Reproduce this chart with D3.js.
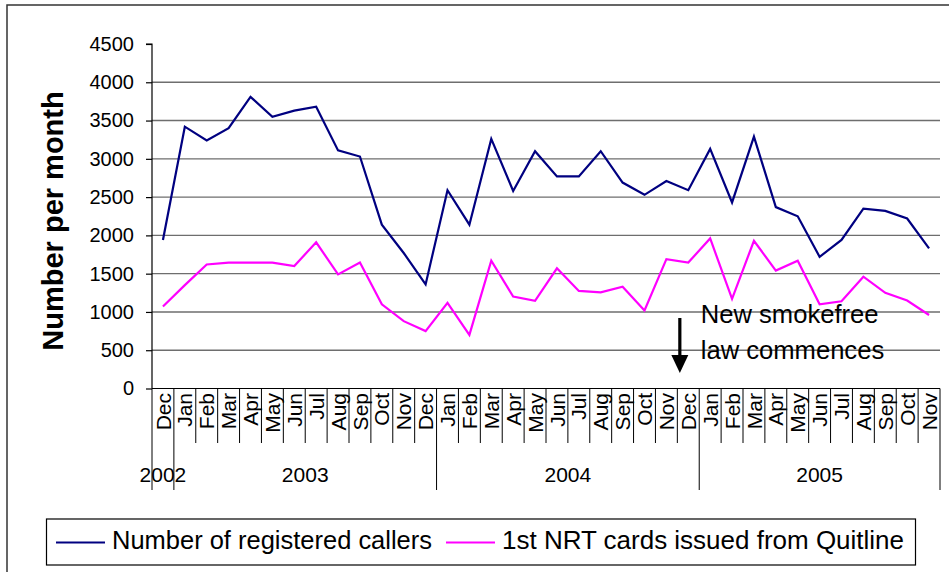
<!DOCTYPE html>
<html>
<head>
<meta charset="utf-8">
<script src="https://cdn.jsdelivr.net/npm/d3@7/dist/d3.min.js"></script>
<style>
  html, body { margin: 0; padding: 0; background: #fff; }
  text { font-family: Arial, "Liberation Sans", sans-serif; fill: #000; }
</style>
</head>
<body>
<main></main>
<script>
// Constants
const WIDTH = 949;
const HEIGHT = 572;
const PLOT = { left: 152, right: 940, top: 44, bottom: 388.5 };

// Data: Dec 2002 .. Nov 2005
const MONTHS = [
  'Dec',
  'Jan', 'Feb', 'Mar', 'Apr', 'May', 'Jun', 'Jul', 'Aug', 'Sep', 'Oct', 'Nov', 'Dec',
  'Jan', 'Feb', 'Mar', 'Apr', 'May', 'Jun', 'Jul', 'Aug', 'Sep', 'Oct', 'Nov', 'Dec',
  'Jan', 'Feb', 'Mar', 'Apr', 'May', 'Jun', 'Jul', 'Aug', 'Sep', 'Oct', 'Nov',
];
const YEARS = ['2002', '2003', '2004', '2005'];
const YEAR_MONTHS = [1, 12, 12, 11];

const CALLERS = [
  1940,
  3420, 3240, 3400, 3810, 3550, 3630, 3680, 3110, 3030, 2140, 1770, 1360,
  2590, 2140, 3260, 2580, 3100, 2770, 2770, 3100, 2690, 2530, 2710, 2590,
  3130, 2430, 3290, 2370, 2250, 1720, 1940, 2350, 2320, 2220, 1830,
];
const NRT = [
  1070,
  1350, 1620, 1645, 1645, 1645, 1600, 1910, 1490, 1645, 1100, 880, 750,
  1120, 700, 1670, 1200, 1145, 1570, 1275, 1255, 1330, 1020, 1690, 1645,
  1960, 1170, 1930, 1540, 1670, 1100, 1140, 1460, 1250, 1150, 960,
];
const Y_TICKS = [0, 500, 1000, 1500, 2000, 2500, 3000, 3500, 4000, 4500];

const SERIES = [
  { name: 'Number of registered callers', values: CALLERS, color: '#000080' },
  { name: '1st NRT cards issued from Quitline', values: NRT, color: '#ff00ff' },
];

// Month keys, one per category
const keys = MONTHS.map((m, i) => `${i}`);

// Scales
const xScale = d3.scaleBand(keys, [PLOT.left, PLOT.right]).padding(0);
const yScale = d3.scaleLinear([0, 4500], [PLOT.bottom, PLOT.top]);
const bw = xScale.bandwidth();
const xCenter = (i) => xScale(keys[i]) + bw / 2;
const xEdge = (i) => (i < keys.length ? xScale(keys[i]) : PLOT.right);

const svg = d3.select('main')
  .append('svg')
  .attr('width', WIDTH)
  .attr('height', HEIGHT);

// Outer chart frame (cut off at right/bottom)
svg.append('rect')
  .attr('x', 7)
  .attr('y', 5)
  .attr('width', WIDTH + 10)
  .attr('height', HEIGHT + 10)
  .attr('fill', 'none')
  .attr('stroke', '#333')
  .attr('stroke-width', 1.5);

// Gridlines
svg.append('g')
  .selectAll('line')
  .data(Y_TICKS.filter((t) => t > 0 && t < 4500))
  .enter()
  .append('line')
  .attr('x1', PLOT.left)
  .attr('x2', PLOT.right)
  .attr('y1', (d) => yScale(d))
  .attr('y2', (d) => yScale(d))
  .attr('stroke', '#6e6e6e')
  .attr('stroke-width', 1.4);

// Y axis
const yAxis = d3.axisLeft(yScale)
  .tickValues(Y_TICKS)
  .tickSize(6)
  .tickPadding(12)
  .tickFormat(d3.format('d'));

const yG = svg.append('g')
  .attr('transform', `translate(${PLOT.left}, 0)`)
  .call(yAxis);
yG.select('.domain').attr('stroke', '#000').attr('stroke-width', 1.2)
  .attr('d', `M-6,${PLOT.top}H0V${PLOT.bottom}`);
yG.selectAll('.tick line').attr('stroke', '#000').attr('stroke-width', 1.2);
yG.selectAll('.tick text')
  .attr('font-size', 20)
  .attr('font-family', 'Arial, "Liberation Sans", sans-serif')
  .attr('fill', '#000');

// Y title
svg.append('text')
  .attr('transform', `translate(53, 221) rotate(-90)`)
  .attr('text-anchor', 'middle')
  .attr('dy', '0.35em')
  .attr('font-size', 29)
  .attr('font-weight', 'bold')
  .text('Number per month');

// X axis line
svg.append('line')
  .attr('x1', PLOT.left)
  .attr('x2', PLOT.right)
  .attr('y1', PLOT.bottom)
  .attr('y2', PLOT.bottom)
  .attr('stroke', '#000')
  .attr('stroke-width', 1.2);

// Year boundaries (indices where a new year starts)
const yearStarts = YEAR_MONTHS.reduce((acc, n) => {
  acc.push(acc[acc.length - 1] + n);
  return acc;
}, [0]);

// Month separators
svg.append('g')
  .selectAll('line')
  .data(d3.range(keys.length + 1))
  .enter()
  .append('line')
  .attr('x1', (i) => xEdge(i))
  .attr('x2', (i) => xEdge(i))
  .attr('y1', PLOT.bottom)
  .attr('y2', (i) => (yearStarts.includes(i) ? 490 : 443))
  .attr('stroke', '#000')
  .attr('stroke-width', 1);

// Month labels
svg.append('g')
  .selectAll('text')
  .data(MONTHS)
  .enter()
  .append('text')
  .attr('transform', (d, i) => `translate(${xCenter(i)}, 393) rotate(-90)`)
  .attr('text-anchor', 'end')
  .attr('dy', '0.36em')
  .attr('font-size', 21)
  .text((d) => d);

// Year labels
svg.append('g')
  .selectAll('text')
  .data(YEARS)
  .enter()
  .append('text')
  .attr('x', (d, i) => (xEdge(yearStarts[i]) + xEdge(yearStarts[i + 1])) / 2)
  .attr('y', 482)
  .attr('text-anchor', 'middle')
  .attr('font-size', 21)
  .text((d) => d);

// Lines
const line = d3.line()
  .x((d, i) => xCenter(i))
  .y((d) => yScale(d));

svg.append('g')
  .selectAll('path')
  .data(SERIES)
  .enter()
  .append('path')
  .attr('d', (s) => line(s.values))
  .attr('fill', 'none')
  .attr('stroke', (s) => s.color)
  .attr('stroke-width', 2.2)
  .attr('stroke-linejoin', 'miter');

// Annotation: new smokefree law (Dec 2004)
const lawIdx = 24;
const arrowX = xScale(keys[lawIdx]) + 2.5;
svg.append('line')
  .attr('x1', arrowX)
  .attr('x2', arrowX)
  .attr('y1', 318)
  .attr('y2', 356)
  .attr('stroke', '#000')
  .attr('stroke-width', 3.2);
svg.append('path')
  .attr('d', `M${arrowX - 8.5},355 L${arrowX + 8.5},355 L${arrowX},373 Z`)
  .attr('fill', '#000');

const note = svg.append('text')
  .attr('x', xScale(keys[lawIdx + 1]) + 1.5)
  .attr('y', 323)
  .attr('font-size', 25.6);
note.append('tspan').text('New smokefree');
note.append('tspan')
  .attr('x', xScale(keys[lawIdx + 1]) + 1.5)
  .attr('y', 359)
  .text('law commences');

// Legend
const legend = svg.append('g');
legend.append('rect')
  .attr('x', 46.5)
  .attr('y', 519)
  .attr('width', 869)
  .attr('height', 46)
  .attr('fill', '#fff')
  .attr('stroke', '#000')
  .attr('stroke-width', 1.2);

const LEGEND_X = [56, 446];
const LEGEND_TEXT_W = [320, 402];
SERIES.forEach((s, i) => {
  legend.append('line')
    .attr('x1', LEGEND_X[i])
    .attr('x2', LEGEND_X[i] + 49)
    .attr('y1', 542.5)
    .attr('y2', 542.5)
    .attr('stroke', s.color)
    .attr('stroke-width', 2.2);
  legend.append('text')
    .attr('x', LEGEND_X[i] + 56)
    .attr('y', 548.5)
    .attr('font-size', 25.5)
    .attr('textLength', LEGEND_TEXT_W[i])
    .attr('lengthAdjust', 'spacingAndGlyphs')
    .text(s.name);
});
</script>
</body>
</html>
